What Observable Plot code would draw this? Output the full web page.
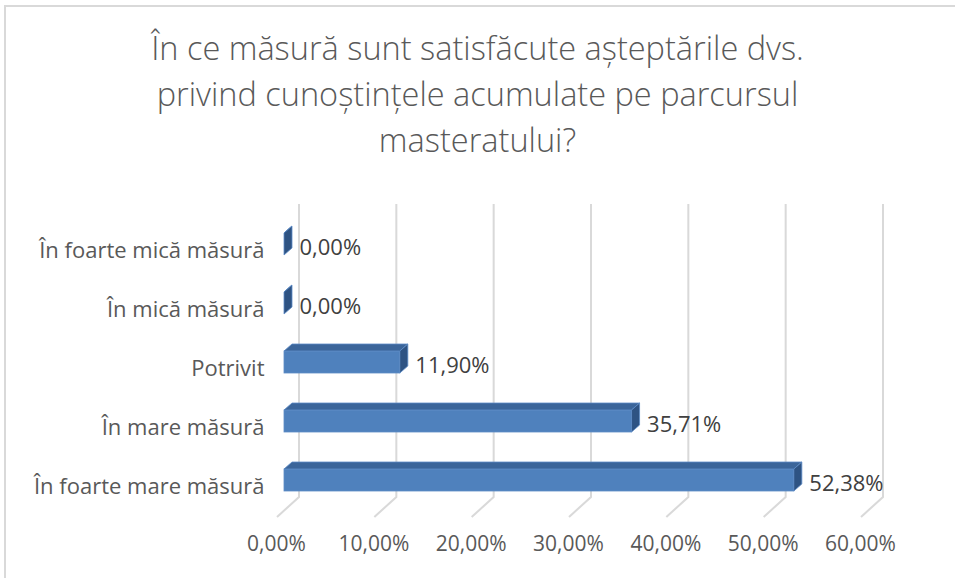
<!DOCTYPE html>
<html>
<head>
<meta charset="utf-8">
<script src="https://cdn.jsdelivr.net/npm/d3@7"></script>
<script src="https://cdn.jsdelivr.net/npm/@observablehq/plot@0.6"></script>
<style>
  body { margin: 0; background: #fff; }
  #wrap { position: relative; width: 955px; height: 578px; overflow: hidden; font-family: "Open Sans", sans-serif; background: #fff; }
  #frame { position: absolute; left: 4px; top: 5px; width: 1000px; height: 1000px; border-left: 2px solid #d9d9d9; border-top: 2px solid #d9d9d9; box-sizing: border-box; }
  #title { position: absolute; left: 0; top: 0; width: 955px; height: 190px; text-align: center; color: #595959; font-size: 32.5px; font-weight: 300; line-height: 46px; padding-top: 25px; box-sizing: border-box; }
  #chart { position: absolute; left: 0; top: 190px; }
</style>
</head>
<body>
<div id="wrap">
  <div id="frame"></div>
  <div id="title"></div>
  <div id="chart"></div>
</div>
<script>
const titleLines = [
  "În ce măsură sunt satisfăcute așteptările dvs.",
  "privind cunoștințele acumulate pe parcursul",
  "masteratului?"
];
const categories = ["În foarte mică măsură", "În mică măsură", "Potrivit", "În mare măsură", "În foarte mare măsură"];
const values = [0, 0, 11.90, 35.71, 52.38];
const valueLabels = ["0,00%", "0,00%", "11,90%", "35,71%", "52,38%"];
const tickValues = [0, 10, 20, 30, 40, 50, 60];
const tickLabels = ["0,00%", "10,00%", "20,00%", "30,00%", "40,00%", "50,00%", "60,00%"];

document.getElementById("title").innerHTML = titleLines.map(t => `<div>${t}</div>`).join("");

const data = categories.map((c, i) => ({category: c, value: values[i], label: valueLabels[i]}));

const DEPTH_X = 8, DEPTH_Y = -7;     // bar depth
const BACK_DX = 15, FRONT_DX = -7;   // gridline wall / floor offsets
const GRID_TOP = 14, FLOOR_BACK = 307, FLOOR_FRONT = 327;

function gridRender(index, scales, vals, dimensions) {
  const g = d3.create("svg:g");
  for (const i of index) {
    const x = vals.x[i];
    g.append("path")
      .attr("d", `M${x + BACK_DX},${GRID_TOP}V${FLOOR_BACK}L${x + FRONT_DX},${FLOOR_FRONT}`)
      .attr("fill", "none")
      .attr("stroke", "#d9d9d9")
      .attr("stroke-width", 2);
  }
  return g.node();
}

function bar3dRender(index, scales, vals, dimensions, context, next) {
  const g = next(index, scales, vals, dimensions, context);
  const rects = Array.from(g.querySelectorAll("rect"));
  for (const r of rects) {
    const x = +r.getAttribute("x"), y = +r.getAttribute("y");
    const w = +r.getAttribute("width"), h = +r.getAttribute("height");
    const x2 = x + w;
    const top = document.createElementNS("http://www.w3.org/2000/svg", "path");
    top.setAttribute("d", `M${x},${y}L${x2},${y}L${x2 + DEPTH_X},${y + DEPTH_Y}L${x + DEPTH_X},${y + DEPTH_Y}Z`);
    top.setAttribute("fill", "#3b659a");
    g.appendChild(top);
    const side = document.createElementNS("http://www.w3.org/2000/svg", "path");
    side.setAttribute("d", `M${x2},${y}L${x2 + DEPTH_X},${y + DEPTH_Y}L${x2 + DEPTH_X},${y + h + DEPTH_Y}L${x2},${y + h}Z`);
    side.setAttribute("fill", "#2e5383");
    g.appendChild(side);
  }
  return g;
}

const chart = Plot.plot({
  width: 955,
  height: 388,
  marginLeft: 284,
  marginRight: 87,
  marginTop: 23,
  marginBottom: 66,
  style: {fontFamily: "'Open Sans', sans-serif", background: "transparent", overflow: "visible"},
  x: {domain: [0, 60], axis: null},
  y: {domain: categories, axis: null, paddingInner: 0.623, paddingOuter: 0.3115},
  marks: [
    Plot.ruleX(tickValues, {x: d => d, render: gridRender}),
    Plot.barX(data, {x: "value", y: "category", fill: "#4f81bd", stroke: "#5d8cc6", strokeWidth: 0.8, render: bar3dRender}),
    Plot.text(data, {x: "value", y: "category", text: "label", textAnchor: "start", dx: 15, dy: 3, fill: "#404040", fontSize: 22}),
    Plot.text(categories, {y: d => d, text: d => d, frameAnchor: "left", textAnchor: "end", dx: -20, dy: 6, fill: "#595959", fontSize: 22}),
    Plot.text(tickValues, {x: d => d, text: (d, i) => tickLabels[i], frameAnchor: "bottom", dx: -8, dy: 38, fill: "#595959", fontSize: 21})
  ]
});
document.getElementById("chart").appendChild(chart);
</script>
</body>
</html>
